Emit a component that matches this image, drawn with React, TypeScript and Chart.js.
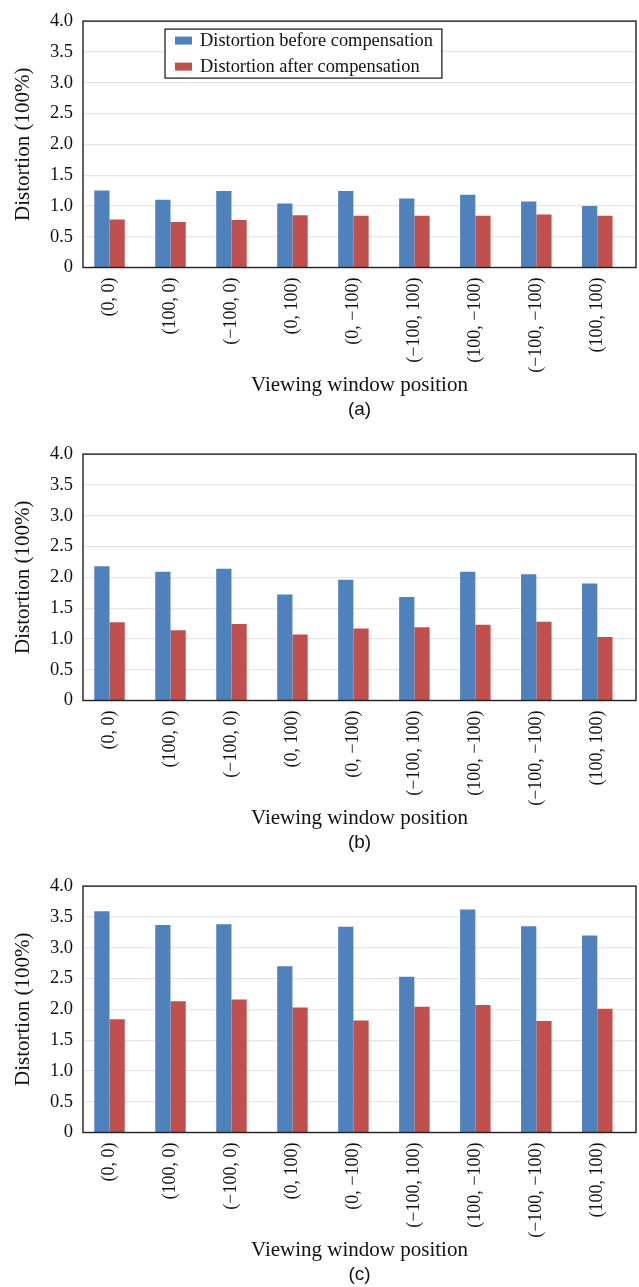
import React, { useEffect, useRef } from "react";
import { Chart, registerables } from "chart.js";

Chart.register(...registerables);

const categories = [
  "(0, 0)",
  "(100, 0)",
  "(−100, 0)",
  "(0, 100)",
  "(0, −100)",
  "(−100, 100)",
  "(100, −100)",
  "(−100, −100)",
  "(100, 100)",
];

const yTickLabels = ["0", "0.5", "1.0", "1.5", "2.0", "2.5", "3.0", "3.5", "4.0"];

const seriesNames = ["Distortion before compensation", "Distortion after compensation"];

const beforeA = [1.25, 1.1, 1.24, 1.04, 1.24, 1.12, 1.18, 1.07, 1.0];
const afterA = [0.78, 0.74, 0.77, 0.85, 0.84, 0.84, 0.84, 0.86, 0.84];

const beforeB = [2.18, 2.09, 2.14, 1.72, 1.96, 1.68, 2.09, 2.05, 1.9];
const afterB = [1.27, 1.14, 1.24, 1.07, 1.17, 1.19, 1.23, 1.28, 1.03];

const beforeC = [3.59, 3.37, 3.38, 2.7, 3.34, 2.53, 3.62, 3.35, 3.2];
const afterC = [1.84, 2.13, 2.16, 2.03, 1.82, 2.04, 2.07, 1.81, 2.01];

const BLUE = "#4F81BD";
const RED = "#C0504D";
const SERIF = '"Liberation Serif", "Times New Roman", serif';
const SANS = '"Liberation Sans", Arial, sans-serif';

const framePlugin = {
  id: "frameBox",
  afterDatasetsDraw(chart: any) {
    const { ctx, chartArea } = chart;
    ctx.save();
    ctx.strokeStyle = "#222";
    ctx.lineWidth = 1.4;
    ctx.strokeRect(chartArea.left, chartArea.top, chartArea.right - chartArea.left, chartArea.bottom - chartArea.top);
    ctx.restore();
  },
};

const boxLegendPlugin = {
  id: "boxLegend",
  afterDraw(chart: any, _args: any, opts: any) {
    if (!opts || !opts.show) return;
    const { ctx, chartArea } = chart;
    ctx.save();
    ctx.font = "18.4px " + SERIF;
    const items = chart.data.datasets.map((d: any) => ({ label: d.label, color: d.backgroundColor }));
    const textW = Math.max(...items.map((i: any) => ctx.measureText(i.label).width));
    const padX = 10, markerW = 17, markerH = 8, gap = 8, rowH = 26, padY = 11.5;
    const x0 = chartArea.left + 82;
    const y0 = chartArea.top + 8;
    const w = padX + markerW + gap + textW + 9;
    const h = padY * 2 + rowH * (items.length - 1);
    ctx.fillStyle = "#fff";
    ctx.fillRect(x0, y0, w, h);
    ctx.strokeStyle = "#111";
    ctx.lineWidth = 1.2;
    ctx.strokeRect(x0, y0, w, h);
    items.forEach((it: any, i: number) => {
      const cy = y0 + padY + i * rowH;
      ctx.fillStyle = it.color;
      ctx.fillRect(x0 + padX, cy - markerH / 2, markerW, markerH);
      ctx.fillStyle = "#111";
      ctx.textBaseline = "middle";
      ctx.textAlign = "left";
      ctx.fillText(it.label, x0 + padX + markerW + gap, cy + 1);
    });
    ctx.restore();
  },
};

function Panel(props: { before: number[]; after: number[]; tag: string; height: number; showLegend: boolean }) {
  const ref = useRef<HTMLCanvasElement | null>(null);
  useEffect(() => {
    if (!ref.current) return;
    const chart = new Chart(ref.current, {
      type: "bar",
      data: {
        datasets: [
          {
            label: seriesNames[0],
            data: props.before.map((v, i) => ({ x: i, y: v })),
            backgroundColor: BLUE,
            borderWidth: 0,
            categoryPercentage: 0.5,
            barPercentage: 1,
          },
          {
            label: seriesNames[1],
            data: props.after.map((v, i) => ({ x: i, y: v })),
            backgroundColor: RED,
            borderWidth: 0,
            categoryPercentage: 0.5,
            barPercentage: 1,
          },
        ],
      },
      options: {
        animation: false,
        responsive: true,
        maintainAspectRatio: false,
        events: [],
        layout: { padding: { top: 14, right: 3, bottom: props.height - 421.2, left: 0 } },
        plugins: {
          legend: { display: false },
          tooltip: { enabled: false },
          title: {
            display: true,
            position: "bottom",
            fullSize: false,
            text: props.tag,
            color: "#111",
            font: { family: SANS, size: 19, weight: "normal" },
            padding: 0,
          },
          boxLegend: { show: props.showLegend },
        } as any,
        scales: {
          x: {
            type: "linear",
            min: -0.435,
            max: 8.635,
            offset: false,
            grid: { display: false, drawTicks: false },
            border: { display: false },
            afterBuildTicks: (scale: any) => {
              scale.ticks = categories.map((_, i) => ({ value: i }));
            },
            afterFit: (scale: any) => {
              scale.height = 130.9;
            },
            ticks: {
              autoSkip: false,
              minRotation: 90,
              maxRotation: 90,
              padding: 10,
              color: "#111",
              font: { family: SERIF, size: 18 },
              callback: (v: any) => categories[Math.round(Number(v))],
            },
            title: {
              display: true,
              text: "Viewing window position",
              color: "#111",
              font: { family: SERIF, size: 21 },
              padding: { top: 0, bottom: 0.8 },
            },
          },
          y: {
            min: 0,
            max: 4,
            grid: { color: "#e6e6e6", lineWidth: 1.2, drawTicks: false },
            border: { display: false },
            afterFit: (scale: any) => {
              scale.width = 83;
            },
            ticks: {
              stepSize: 0.5,
              padding: 10,
              color: "#111",
              font: { family: SERIF, size: 18.5 },
              callback: (_v: any, idx: number) => yTickLabels[idx],
            },
            title: {
              display: true,
              text: "Distortion (100%)",
              color: "#111",
              font: { family: SERIF, size: 21 },
              padding: { top: 11, bottom: 0 },
            },
          },
        },
      } as any,
      plugins: [framePlugin, boxLegendPlugin],
    });
    return () => chart.destroy();
  }, []);
  return (
    <div style={{ position: "relative", width: 639, height: props.height }}>
      <canvas ref={ref} />
    </div>
  );
}

export default function App() {
  return (
    <div style={{ position: "absolute", left: 0, top: 0, width: 639, background: "#fff" }}>
      <Panel before={beforeA} after={afterA} tag="(a)" height={433} showLegend={true} />
      <Panel before={beforeB} after={afterB} tag="(b)" height={432} showLegend={false} />
      <Panel before={beforeC} after={afterC} tag="(c)" height={422} showLegend={false} />
    </div>
  );
}
